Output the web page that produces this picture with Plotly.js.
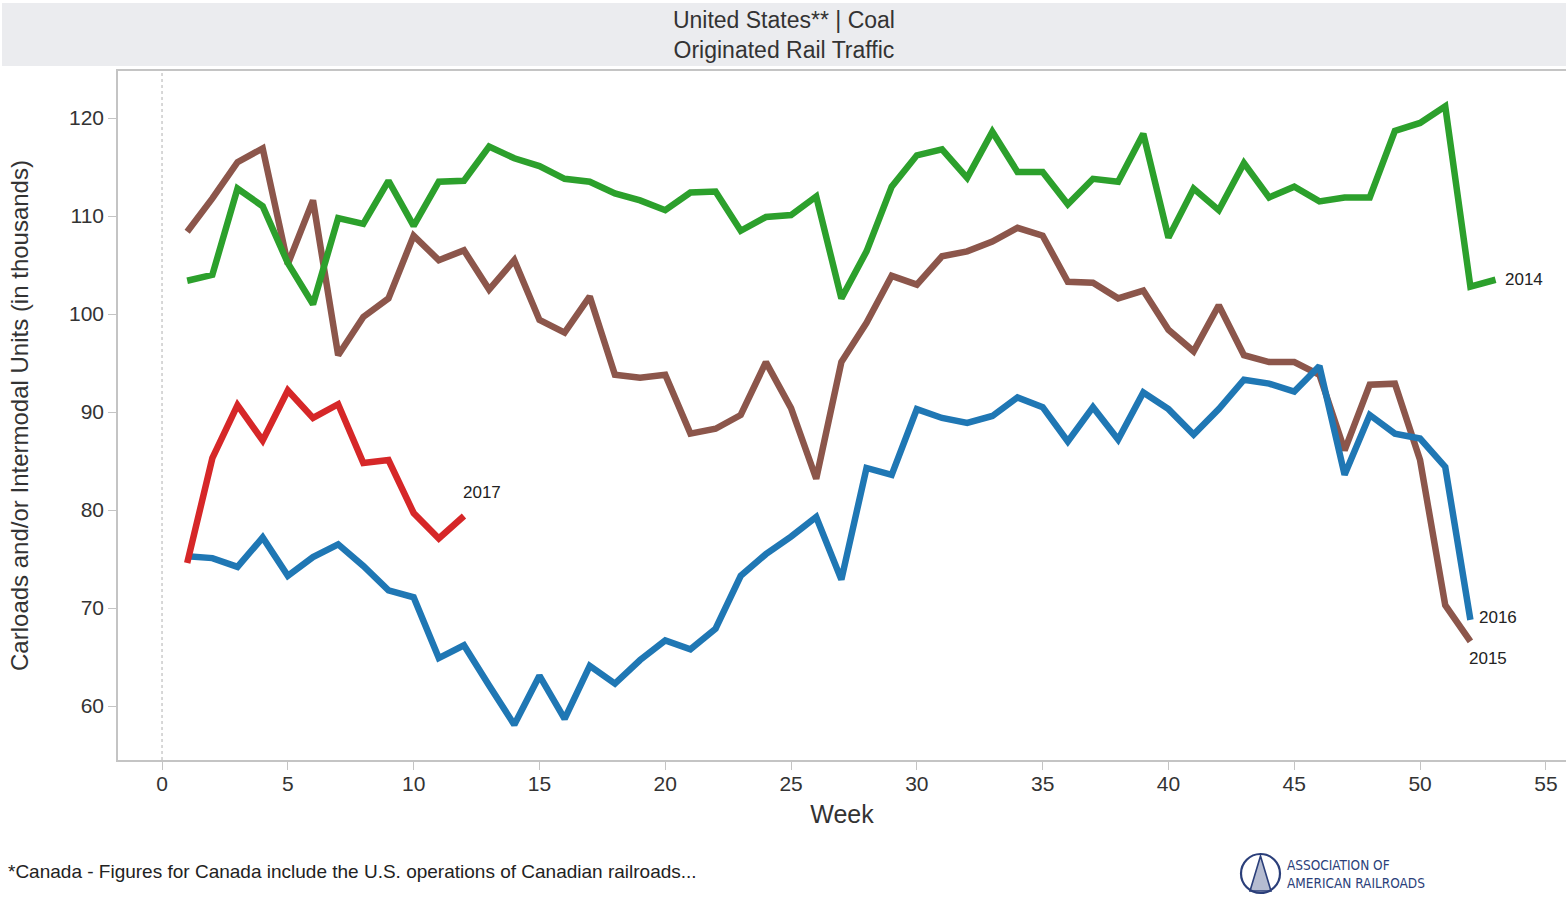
<!DOCTYPE html>
<html>
<head>
<meta charset="utf-8">
<script src="https://cdn.plot.ly/plotly-3.0.1.min.js"></script>
<style>
html,body{margin:0;padding:0;background:#fff;}
#chart{width:1566px;height:900px;}
</style>
</head>
<body>
<div id="chart"></div>
<script>
// ---- data ----
const weeks2014 = [1,2,3,4,5,6,7,8,9,10,11,12,13,14,15,16,17,18,19,20,21,22,23,24,25,26,27,28,29,30,31,32,33,34,35,36,37,38,39,40,41,42,43,44,45,46,47,48,49,50,51,52,53];
const coal2014 = [103.4,104.0,112.8,111.0,105.2,101.0,109.8,109.2,113.6,109.0,113.5,113.6,117.1,115.9,115.1,113.8,113.5,112.3,111.6,110.6,112.4,112.5,108.5,109.9,110.1,112.0,101.6,106.4,113.0,116.2,116.8,113.9,118.6,114.5,114.5,111.2,113.8,113.5,118.4,107.8,112.8,110.6,115.4,111.9,113.0,111.5,111.9,111.9,118.7,119.5,121.2,102.8,103.5];

const weeks2015 = [1,2,3,4,5,6,7,8,9,10,11,12,13,14,15,16,17,18,19,20,21,22,23,24,25,26,27,28,29,30,31,32,33,34,35,36,37,38,39,40,41,42,43,44,45,46,47,48,49,50,51,52];
const coal2015 = [108.4,111.8,115.5,116.9,105.1,111.6,95.8,99.7,101.6,108.0,105.5,106.5,102.5,105.5,99.4,98.1,101.8,93.8,93.5,93.8,87.8,88.3,89.7,95.1,90.4,83.2,95.1,99.1,103.9,103.0,105.9,106.4,107.4,108.8,108.0,103.3,103.2,101.6,102.4,98.4,96.2,100.9,95.8,95.1,95.1,93.8,86.1,92.8,92.9,85.1,70.3,66.6];

const weeks2016 = [1,2,3,4,5,6,7,8,9,10,11,12,13,14,15,16,17,18,19,20,21,22,23,24,25,26,27,28,29,30,31,32,33,34,35,36,37,38,39,40,41,42,43,44,45,46,47,48,49,50,51,52];
const coal2016 = [75.3,75.1,74.2,77.2,73.3,75.2,76.5,74.3,71.8,71.1,64.9,66.2,62.1,58.1,63.1,58.7,64.1,62.3,64.7,66.7,65.8,67.9,73.3,75.5,77.3,79.3,72.9,84.3,83.6,90.3,89.4,88.9,89.6,91.5,90.5,87.0,90.5,87.2,92.0,90.3,87.7,90.3,93.3,92.9,92.1,94.7,83.6,89.7,87.8,87.3,84.4,68.8];

const weeks2017 = [1,2,3,4,5,6,7,8,9,10,11,12];
const coal2017 = [74.6,85.3,90.7,87.1,92.2,89.4,90.8,84.8,85.1,79.7,77.1,79.4];

const yTicks = [60,70,80,90,100,110,120];
const xTicks = [0,5,10,15,20,25,30,35,40,45,50,55];

// ---- layout helpers (pixel -> paper) ----
const W = 1566, H = 900;
const M = {l:118, r:0, t:71, b:140};
const pw = W - M.l - M.r, ph = H - M.t - M.b;
const px = x => (x - M.l) / pw;
const py = y => (H - M.b - y) / ph;

function line(x, y, color, name) {
  return {x: x, y: y, type: 'scatter', mode: 'lines', name: name,
    line: {color: color, width: 6.5}, hoverinfo: 'x+y'};
}

const traces = [
  line(weeks2015, coal2015, '#8c564b', '2015'),
  line(weeks2016, coal2016, '#1f77b4', '2016'),
  line(weeks2014, coal2014, '#2ca02c', '2014'),
  line(weeks2017, coal2017, '#d62728', '2017')
];

const txt = {family: 'Arial, "Liberation Sans", sans-serif', color: '#333'};
const last = a => a[a.length - 1];

const layout = {
  width: W, height: H,
  margin: M,
  paper_bgcolor: '#fff', plot_bgcolor: '#fff',
  showlegend: false,
  font: {family: txt.family, color: '#333'},
  title: {
    text: 'United States** | Coal<br>Originated Rail Traffic',
    x: 0.5006, xref: 'container', xanchor: 'center',
    y: 1 - 28/H, yref: 'container', yanchor: 'middle',
    font: {family: txt.family, size: 23, color: '#333'}
  },
  xaxis: {
    range: [-1.75, 55.8], tickvals: xTicks, ticktext: xTicks.map(String),
    showgrid: false, zeroline: false,
    showline: true, linecolor: '#c4c4c4', linewidth: 1.5, mirror: true,
    ticks: 'outside', ticklen: 8, tickcolor: '#c4c4c4', tickwidth: 1.3,
    ticklabelstandoff: -4,
    tickfont: {family: txt.family, size: 21, color: '#333'},
    title: {text: 'Week', font: {family: txt.family, size: 25, color: '#333'}, standoff: 12}
  },
  yaxis: {
    range: [54.5, 124.8], tickvals: yTicks, ticktext: yTicks.map(String),
    showgrid: false, zeroline: false,
    showline: true, linecolor: '#c4c4c4', linewidth: 1.5, mirror: true,
    ticks: 'outside', ticklen: 8, tickcolor: '#c4c4c4', tickwidth: 1.3,
    tickfont: {family: txt.family, size: 21, color: '#333'},
    title: {text: 'Carloads and/or Intermodal Units (in thousands)', font: {family: txt.family, size: 24, color: '#333'}, standoff: 34}
  },
  shapes: [
    // title banner
    {type: 'rect', xref: 'paper', yref: 'paper', x0: px(2), x1: px(1566), y0: py(66), y1: py(3),
     fillcolor: '#ebecef', line: {width: 0}, layer: 'below'},
    // dotted zero line
    {type: 'line', xref: 'x', yref: 'paper', x0: 0, x1: 0, y0: 0, y1: 1,
     line: {color: '#b0b0b0', width: 1, dash: 'dot'}, layer: 'below'},
    // logo circle
    {type: 'circle', xref: 'paper', yref: 'paper', x0: px(1241), x1: px(1280), y0: py(893), y1: py(854),
     line: {color: '#2b3f7a', width: 2.2}},
    // logo triangle (track)
    {type: 'path', xref: 'paper', yref: 'paper',
     path: 'M ' + px(1260.5) + ' ' + py(856) + ' L ' + px(1250) + ' ' + py(891) + ' L ' + px(1271) + ' ' + py(891) + ' Z',
     fillcolor: 'rgba(43,63,122,0.35)', line: {color: '#2b3f7a', width: 1.6}}
  ],
  annotations: [
    {x: last(weeks2014), y: last(coal2014), xref: 'x', yref: 'y', text: '2014', showarrow: false,
     xanchor: 'left', yanchor: 'middle', xshift: 7, font: {family: txt.family, size: 17, color: '#222'}},
    {x: last(weeks2016), y: last(coal2016), xref: 'x', yref: 'y', text: '2016', showarrow: false,
     xanchor: 'left', yanchor: 'middle', xshift: 7, yshift: 2, font: {family: txt.family, size: 17, color: '#222'}},
    {x: last(weeks2015), y: last(coal2015), xref: 'x', yref: 'y', text: '2015', showarrow: false,
     xanchor: 'left', yanchor: 'middle', xshift: -3, yshift: -17, font: {family: txt.family, size: 17, color: '#222'}},
    {x: last(weeks2017), y: last(coal2017), xref: 'x', yref: 'y', text: '2017', showarrow: false,
     xanchor: 'center', yanchor: 'middle', xshift: 18, yshift: 23, font: {family: txt.family, size: 17, color: '#222'}},
    {x: px(6), y: py(872), xref: 'paper', yref: 'paper', text: '*Canada - Figures for Canada include the U.S. operations of Canadian railroads...',
     showarrow: false, xanchor: 'left', yanchor: 'middle', font: {family: txt.family, size: 19, color: '#222'}},
    {x: px(1285), y: py(874), xref: 'paper', yref: 'paper', text: 'ASSOCIATION OF<br>AMERICAN RAILROADS',
     showarrow: false, xanchor: 'left', yanchor: 'middle', align: 'left',
     font: {family: '"Liberation Sans Narrow", "DejaVu Sans Condensed", Arial, sans-serif', size: 13.5, color: '#2b3f7a'}}
  ]
};

Plotly.newPlot('chart', traces, layout, {displayModeBar: false});
</script>
</body>
</html>
